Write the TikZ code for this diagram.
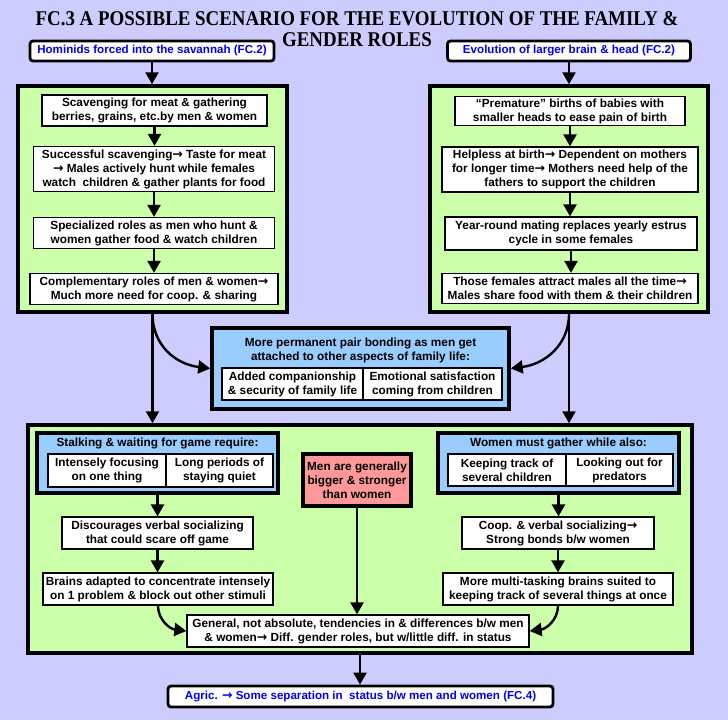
\documentclass[tikz,border=0pt]{standalone}
\usepackage{fontspec}
\setmainfont{Liberation Sans}
\newfontfamily\titlefont{Liberation Serif}
\newfontfamily\arrfont{DejaVu Sans}
\newcommand\myarr{{\arrfont\bfseries\fontsize{12.5}{14}\selectfont →}}
\usetikzlibrary{arrows.meta}
\definecolor{bgc}{HTML}{CCCCFF}
\definecolor{grn}{HTML}{CCFFAA}
\definecolor{blu}{HTML}{99CCFF}
\definecolor{rd}{HTML}{FF9999}
\definecolor{txtblue}{HTML}{0000EE}
\tikzset{
 txt/.style={font=\bfseries\fontsize{11.8}{14}\selectfont, align=center},
 wbox/.style={txt, draw, fill=white, line width=1.3pt, inner sep=0pt},
 cell/.style={txt, draw, fill=white, line width=1.1pt, inner sep=0pt},
 refbox/.style={draw, fill=white, line width=2.8pt, rounded corners=3pt, inner sep=0pt,
   text=txtblue, font=\bfseries\fontsize{11.6}{13}\selectfont},
 panel/.style={draw, fill=grn, line width=3.5pt, inner sep=0pt},
 bluebox/.style={draw, fill=blu, line width=3.5pt, inner sep=0pt},
 redbox/.style={txt, draw, fill=rd, line width=3.5pt, inner sep=0pt},
 arr/.style={line width=2.4pt, -{Triangle[width=13pt,length=12pt]}},
}
\begin{document}
\begin{tikzpicture}[x=1pt,y=-1pt]
\useasboundingbox (0,0) rectangle (728,720);
\fill[bgc] (0,0) rectangle (728,720);
% title
\node[font=\titlefont\bfseries\fontsize{21}{21}\selectfont, align=center] (title) at (357,29)
  {\scalebox{0.9}[1]{FC.3 A POSSIBLE SCENARIO FOR THE EVOLUTION OF THE FAMILY \&}\\
   \scalebox{0.9}[1]{GENDER ROLES}};
% top reference boxes
\node[refbox, minimum width=244pt, minimum height=20pt] (tl) at (152,51) {Hominids forced into the savannah (FC.2)};
\node[refbox, minimum width=243pt, minimum height=20pt] (tr) at (569,51) {Evolution of larger brain \& head (FC.2)};
% green panels
\node[panel, minimum width=269pt, minimum height=226pt] (gl) at (152.5,199) {};
\node[panel, minimum width=278pt, minimum height=226pt] (gr) at (569,199) {};
% left column
\node[wbox, minimum width=225pt, minimum height=31pt] (L1) at (154.5,110.5) {Scavenging for meat \& gathering\\berries, grains, etc.by men \& women};
\node[wbox, minimum width=241pt, minimum height=45pt] (L2) at (154,169) {Successful scavenging\myarr\ Taste for meat\\\myarr\ Males actively hunt while females\\watch\ \ children \& gather plants for food};
\node[wbox, minimum width=241pt, minimum height=31pt] (L3) at (154,233) {Specialized roles as men who hunt \&\\women gather food \& watch children};
\node[wbox, minimum width=248pt, minimum height=31pt] (L4) at (154,289) {Complementary roles of men \& women\myarr\\Much more need for coop. \& sharing};
% right column
\node[wbox, minimum width=230pt, minimum height=29pt] (R1) at (570,111) {“Premature” births of babies with\\smaller heads to ease pain of birth};
\node[wbox, minimum width=256pt, minimum height=45pt] (R2) at (570,169.5) {Helpless at birth\myarr\ Dependent on mothers\\for longer time\myarr\ Mothers need help of the\\fathers to support the children};
\node[wbox, minimum width=252pt, minimum height=33pt] (R3) at (571,233.5) {Year-round mating replaces yearly estrus\\cycle in some females};
\node[wbox, minimum width=256pt, minimum height=30pt] (R4) at (570,288.5) {Those females attract males all the time\myarr\\Males share food with them \& their children};
% middle blue box
\node[bluebox, minimum width=297pt, minimum height=81pt] (mb) at (360.5,368.5) {};
\node[txt, inner sep=0pt] (mbt) at (360.5,350) {More permanent pair bonding as men get\\attached to other aspects of family life:};
\node[cell, minimum width=141pt, minimum height=32pt] (mc1) at (292.5,384) {Added companionship\\\& security of family life};
\node[cell, minimum width=139pt, minimum height=32pt] (mc2) at (432.5,384) {Emotional satisfaction\\coming from children};
% bottom panel
\node[panel, minimum width=664pt, minimum height=228pt] (gb) at (360,539) {};
% stalking box
\node[bluebox, minimum width=241pt, minimum height=60pt] (sb) at (157.5,463) {};
\node[txt, inner sep=0pt] (sbt) at (157.5,443) {Stalking \& waiting for game require:};
\node[cell, minimum width=118pt, minimum height=33pt] (sc1) at (107,470.5) {Intensely focusing\\on one thing};
\node[cell, minimum width=107pt, minimum height=33pt] (sc2) at (219.5,470.5) {Long periods of\\staying quiet};
\node[wbox, minimum width=191pt, minimum height=32pt] (db) at (157.5,533) {Discourages verbal socializing\\that could scare off game};
\node[wbox, minimum width=230pt, minimum height=32pt] (bb) at (158,589) {Brains adapted to concentrate intensely\\on 1 problem \& block out other stimuli};
% red box
\node[redbox, minimum width=108pt, minimum height=52pt] (rb) at (357,480) {Men are generally\\bigger \& stronger\\than women};
% general
\node[wbox, minimum width=342pt, minimum height=32pt] (gen) at (358,631) {General, not absolute, tendencies in \& differences b/w men\\\& women\myarr\ Diff. gender roles, but w/little diff. in status};
% women box
\node[bluebox, minimum width=241pt, minimum height=60pt] (wb) at (558.5,463) {};
\node[txt, inner sep=0pt] (wbt) at (558.5,443) {Women must gather while also:};
\node[cell, minimum width=118pt, minimum height=32pt] (wc1) at (507,470) {Keeping track of\\several children};
\node[cell, minimum width=107pt, minimum height=32pt] (wc2) at (619.5,470) {Looking out for\\predators};
\node[wbox, minimum width=192pt, minimum height=32pt] (cb) at (558,533) {Coop. \& verbal socializing\myarr\\Strong bonds b/w women};
\node[wbox, minimum width=230pt, minimum height=32pt] (mt) at (558,589) {More multi-tasking brains suited to\\keeping track of several things at once};
% footer
\node[refbox, minimum width=385pt, minimum height=21pt] (ft) at (360.5,696.5) {Agric. \myarr\ Some separation in\ \ status b/w men and women (FC.4)};
% arrows top
\draw[arr] (tl.south) -- (tl.south |- gl.north);
\draw[arr] (tr.south) -- (tr.south |- gr.north);
\draw[arr] (L1.south) -- (L1.south |- L2.north);
\draw[arr] (L2.south) -- (L2.south |- L3.north);
\draw[arr] (L3.south) -- (L3.south |- L4.north);
\draw[arr] (R1.south) -- (R1.south |- R2.north);
\draw[arr] (R2.south) -- (R2.south |- R3.north);
\draw[arr] (R3.south) -- (R3.south |- R4.north);
% from panels
\draw[arr] (gl.south) -- (gl.south |- gb.north);
\draw[arr] (gr.south) -- (gr.south |- gb.north);
\draw[arr] (gl.south) .. controls (152.5,345) and (175,364) .. (mb.west);
\draw[arr] (gr.south) .. controls (569,345) and (545,364) .. (mb.east);
% bottom
\draw[arr] (sb.south) -- (sb.south |- db.north);
\draw[arr] (db.south) -- (db.south |- bb.north);
\draw[arr] (wb.south) -- (wb.south |- cb.north);
\draw[arr] (cb.south) -- (cb.south |- mt.north);
\draw[arr] (rb.south) -- (rb.south |- gen.north);
\draw[arr] (bb.south) .. controls (158,620) and (170,629) .. (gen.west);
\draw[arr] (mt.south) .. controls (558,620) and (546,629) .. (gen.east);
\draw[arr] (gb.south) -- (gb.south |- ft.north);
\end{tikzpicture}
\end{document}
